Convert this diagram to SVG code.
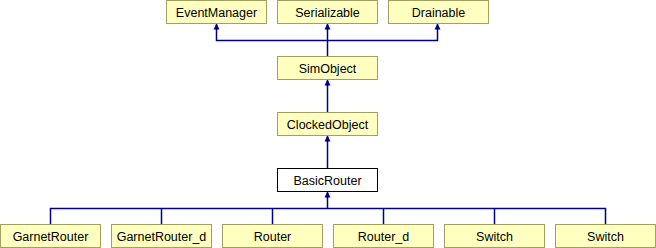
<svg xmlns="http://www.w3.org/2000/svg" width="656" height="248" viewBox="0 0 656 248">
  <style>
    .box { fill: #ffffc0; stroke: #a0a060; stroke-width: 1; }
    .cur { fill: #ffffff; stroke: #000000; stroke-width: 1; }
    .lbl { font-family: "Liberation Sans", Arial, sans-serif; font-size: 12.5px; fill: #000000; text-anchor: middle; }
    .edge { fill: none; stroke: #000080; stroke-width: 1.5; }
    .head { fill: #000080; stroke: none; }
  </style>
  <defs>
    <!-- inheritance arrowhead: tip at the origin, pointing up -->
    <path id="ah" class="head" d="M0,0 L3,6 L-3,6 Z"/>
  </defs>

  <!-- connectors -->
  <g id="edges">
    <!-- SimObject to its three bases -->
    <path class="edge" d="M327.5,56 V24"/>
    <path class="edge" d="M216.5,24 V40.5 H437.5 V24"/>
    <use href="#ah" x="216.5" y="23.5"/>
    <use href="#ah" x="327.5" y="23.5"/>
    <use href="#ah" x="437.5" y="23.5"/>
    <!-- ClockedObject to SimObject -->
    <path class="edge" d="M327.5,112 V80"/>
    <use href="#ah" x="327.5" y="79.5"/>
    <!-- BasicRouter to ClockedObject -->
    <path class="edge" d="M327.5,168 V136"/>
    <use href="#ah" x="327.5" y="135.5"/>
    <!-- derived classes to BasicRouter -->
    <path class="edge" d="M327.5,208.5 V192"/>
    <use href="#ah" x="327.5" y="191.5"/>
    <path class="edge" d="M50.5,224 V208.5 H605.5 V224"/>
    <path class="edge" d="M161.5,224 V208.5"/>
    <path class="edge" d="M272.5,224 V208.5"/>
    <path class="edge" d="M383.5,224 V208.5"/>
    <path class="edge" d="M494.5,224 V208.5"/>
  </g>

  <g id="EventManager">
    <rect class="box" x="166.5" y="0.5" width="100" height="23"/>
    <text class="lbl" x="216.5" y="16.5">EventManager</text>
  </g>
  <g id="Serializable">
    <rect class="box" x="277.5" y="0.5" width="100" height="23"/>
    <text class="lbl" x="327.5" y="16.5">Serializable</text>
  </g>
  <g id="Drainable">
    <rect class="box" x="388.5" y="0.5" width="100" height="23"/>
    <text class="lbl" x="438.5" y="16.5">Drainable</text>
  </g>
  <g id="SimObject">
    <rect class="box" x="277.5" y="56.5" width="100" height="23"/>
    <text class="lbl" x="327.5" y="72.5">SimObject</text>
  </g>
  <g id="ClockedObject">
    <rect class="box" x="277.5" y="112.5" width="100" height="23"/>
    <text class="lbl" x="327.5" y="128.5">ClockedObject</text>
  </g>
  <g id="BasicRouter">
    <rect class="cur" x="277.5" y="168.5" width="100" height="23"/>
    <text class="lbl" x="327.5" y="184.5">BasicRouter</text>
  </g>
  <g id="GarnetRouter">
    <rect class="box" x="0.5" y="224.5" width="100" height="23"/>
    <text class="lbl" x="50.5" y="240.5">GarnetRouter</text>
  </g>
  <g id="GarnetRouter_d">
    <rect class="box" x="111.5" y="224.5" width="100" height="23"/>
    <text class="lbl" x="161.5" y="240.5">GarnetRouter_d</text>
  </g>
  <g id="Router">
    <rect class="box" x="222.5" y="224.5" width="100" height="23"/>
    <text class="lbl" x="272.5" y="240.5">Router</text>
  </g>
  <g id="Router_d">
    <rect class="box" x="333.5" y="224.5" width="100" height="23"/>
    <text class="lbl" x="383.5" y="240.5">Router_d</text>
  </g>
  <g id="Switch1">
    <rect class="box" x="444.5" y="224.5" width="100" height="23"/>
    <text class="lbl" x="494.5" y="240.5">Switch</text>
  </g>
  <g id="Switch2">
    <rect class="box" x="555.5" y="224.5" width="100" height="23"/>
    <text class="lbl" x="605.5" y="240.5">Switch</text>
  </g>
</svg>
